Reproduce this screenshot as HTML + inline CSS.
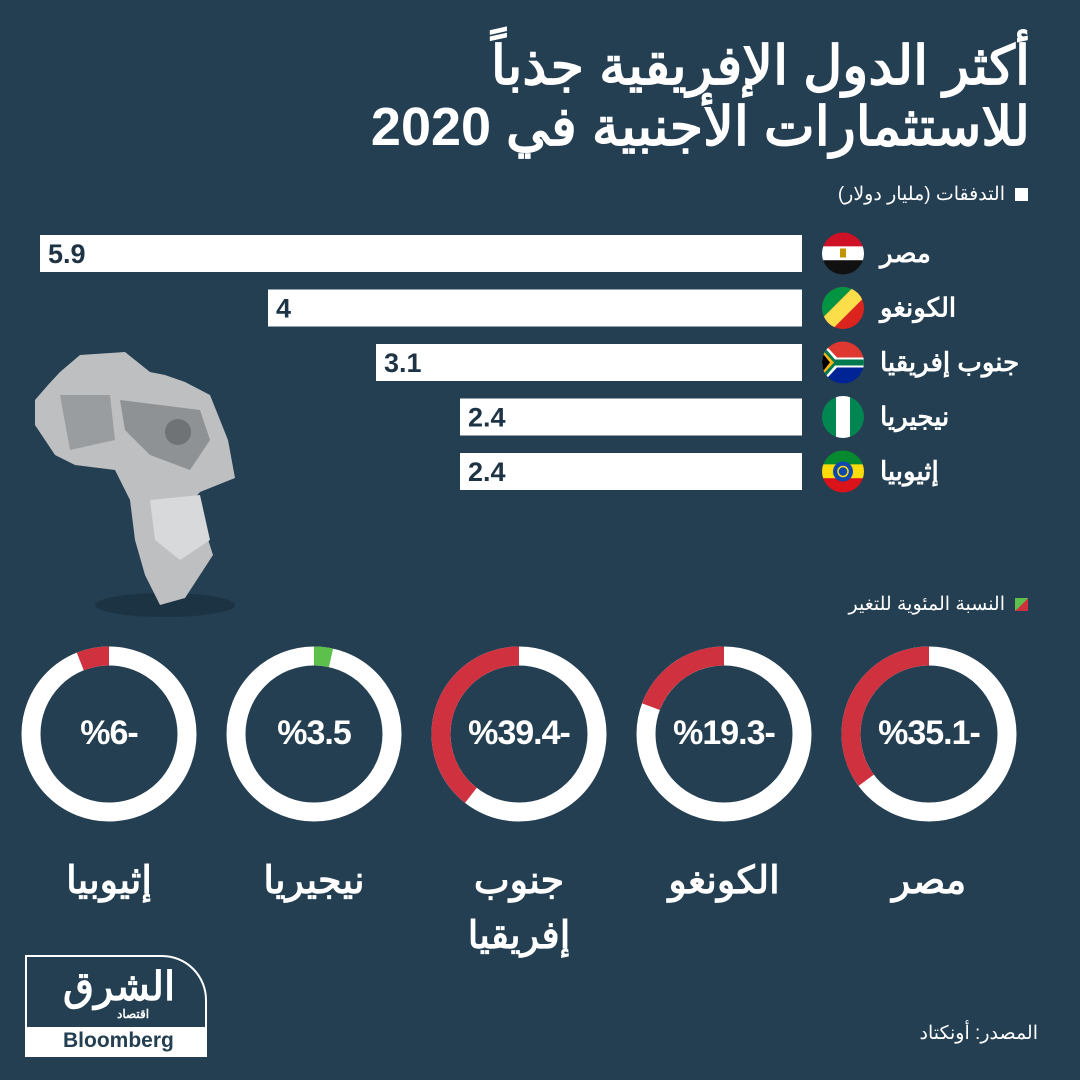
<!DOCTYPE html>
<html><head><meta charset="utf-8">
<style>
html,body{margin:0;padding:0}
body{width:1080px;height:1080px;background:#243f52;position:relative;overflow:hidden;font-family:"Liberation Sans","Noto Sans CJK SC",sans-serif;color:#fff}
.abs{position:absolute}
.title{right:50px;top:36px;text-align:right;font-weight:bold;font-size:54px;line-height:61px;direction:rtl}
</style></head>
<body>
<div class="abs title">أكثر الدول الإفريقية جذباً<br>للاستثمارات الأجنبية في 2020</div>

<div class="abs" style="right:52px;top:183px;font-size:19px;direction:rtl;display:flex;align-items:center">
<span style="width:13px;height:13px;background:#fff;display:inline-block;margin-left:10px"></span>التدفقات (مليار دولار)</div>

<div class="abs" style="right:52px;top:593px;font-size:19px;direction:rtl;display:flex;align-items:center">
<span style="width:13px;height:13px;background:linear-gradient(135deg,#5cc04a 50%,#d0313f 50%);display:inline-block;margin-left:10px"></span>النسبة المئوية للتغير</div>

<svg class="abs" style="left:0;top:0" width="1080" height="1080" id="chart">
 <g id="africa">
  <ellipse cx="165" cy="605" rx="70" ry="12" fill="#1a2f3e" opacity="0.7"/>
  <polygon fill="#bdbfc0" points="80,355 125,352 150,372 165,375 185,382 210,395 228,440 235,478 200,492 180,515 205,530 213,555 200,575 185,598 160,605 145,575 135,540 130,500 115,470 75,465 55,455 35,425 35,400 48,385 60,372"/>
  <polygon fill="#8e9294" points="120,400 200,410 210,440 190,470 150,455 125,430"/>
  <polygon fill="#d8d9da" points="150,500 200,495 210,540 180,560 155,540"/>
  <polygon fill="#9a9d9f" points="60,395 110,395 115,440 70,450"/>
  <circle cx="178" cy="432" r="13" fill="#6f7376"/>
 </g>
 <g id="bars"></g>
 <g id="flags"></g>
 <g id="donuts"></g>
</svg>

<div class="abs" style="right:42px;top:1022px;font-size:19px;direction:rtl">المصدر: أونكتاد</div>

<div class="abs" style="left:25px;top:955px;width:182px;height:102px;border:2px solid #fff;border-top-right-radius:45px;box-sizing:border-box;overflow:hidden">
 <div class="abs" style="left:36px;top:10px;font-size:40px;font-weight:bold;line-height:40px">الشرق</div>
 <div class="abs" style="left:90px;top:50px;font-size:12px;font-weight:bold">اقتصاد</div>
 <div class="abs" style="left:0;bottom:0;width:100%;height:28px;background:#fff;color:#243f52;font-weight:bold;font-size:21px;line-height:28px;padding-left:36px;box-sizing:border-box">Bloomberg</div>
</div>

<script>
const countries = ["مصر","الكونغو","جنوب إفريقيا","نيجيريا","إثيوبيا"];
const flows = [5.9, 4, 3.1, 2.4, 2.4];
const flowLabels = ["5.9","4","3.1","2.4","2.4"];
const changes = [-35.1, -19.3, -39.4, 3.5, -6];
const changeLabels = ["%35.1-","%19.3-","%39.4-","%3.5","%6-"];
const donutNames = [["مصر"],["الكونغو"],["جنوب","إفريقيا"],["نيجيريا"],["إثيوبيا"]];

const NS="http://www.w3.org/2000/svg";
function mk(tag,attrs,parent){const e=document.createElementNS(NS,tag);for(const k in attrs)e.setAttribute(k,attrs[k]);parent.appendChild(e);return e;}
const barRight=802, barTop0=235, barPitch=54.5, barH=37;
function xw(v){return 54+120*v;}
const bars=document.getElementById('bars');
flows.forEach((v,i)=>{
  const w=xw(v), y=barTop0+i*barPitch;
  const r=mk('rect',{x:barRight-w,y:y,width:w,height:barH,fill:'#fff'},bars);
  
  
  const t=mk('text',{x:barRight-w+8,y:y+28,'font-size':'27','font-weight':'bold',fill:'#1e3444','font-family':'Liberation Sans'},bars);
  t.textContent=flowLabels[i];
  
  
  const l=mk('text',{x:880,y:y+27,'font-size':'26','font-weight':'bold',fill:'#fff','text-anchor':'end',direction:'rtl','font-family':'Liberation Sans, Noto Sans CJK SC, sans-serif'},bars);
  l.textContent=countries[i];
  
  
});
const fl=document.getElementById('flags');
const flagDefs=[
 [['#ce1126',0,0.33],['#fff',0.33,0.66],['#111',0.66,1]],
 null,null,null,
 [['#078930',0,0.33],['#fcdd09',0.33,0.66],['#da121a',0.66,1]]
];
const defs=mk('defs',{},fl);
flows.forEach((v,i)=>{
  const cx=843, cy=barTop0+i*barPitch+barH/2, r=21;
  const cp=mk('clipPath',{id:'fc'+i},defs);
  mk('circle',{cx:cx,cy:cy,r:r},cp);
  const g=mk('g',{'clip-path':'url(#fc'+i+')'},fl);
  
  
  const x0=cx-r,y0=cy-r,s=2*r;
  if(i===0||i===4){
    flagDefs[i].forEach(b=>mk('rect',{x:x0,y:y0+b[1]*s,width:s,height:(b[2]-b[1])*s+0.5,fill:b[0]},g));
    if(i===0) mk('rect',{x:cx-3,y:cy-5,width:6,height:9,fill:'#c09300'},g);
    else {mk('circle',{cx:cx,cy:cy,r:10,fill:'#0f47af'},g);mk('circle',{cx:cx,cy:cy,r:5,fill:'none',stroke:'#fcdd09','stroke-width':1.5},g);}
  } else if(i===1){
    mk('rect',{x:x0,y:y0,width:s,height:s,fill:'#dc241f'},g);
    mk('polygon',{points:`${x0},${y0} ${x0+s*0.75},${y0} ${x0},${y0+s*0.75}`,fill:'#009543'},g);
    mk('polygon',{points:`${x0+s*0.75},${y0} ${x0+s},${y0} ${x0+s},${y0+s*0.25} ${x0+s*0.25},${y0+s} ${x0},${y0+s} ${x0},${y0+s*0.75}`,fill:'#fbde4a'},g);
  } else if(i===2){
    mk('rect',{x:x0,y:y0,width:s,height:s/2,fill:'#de3831'},g);
    mk('rect',{x:x0,y:cy,width:s,height:s/2,fill:'#002395'},g);
    mk('polygon',{points:`${x0},${y0} ${cx-6},${cy-5} ${x0+s},${cy-5} ${x0+s},${cy+5} ${cx-6},${cy+5} ${x0},${y0+s}`,fill:'#fff'},g);
    mk('polygon',{points:`${x0},${y0+3} ${cx-8},${cy-3} ${x0+s},${cy-3} ${x0+s},${cy+3} ${cx-8},${cy+3} ${x0},${y0+s-3}`,fill:'#007a4d'},g);
    mk('polygon',{points:`${x0},${y0+8} ${cx-9},${cy} ${x0},${y0+s-8}`,fill:'#ffb612'},g);
    mk('polygon',{points:`${x0},${y0+11} ${cx-13},${cy} ${x0},${y0+s-11}`,fill:'#000'},g);
  } else {
    mk('rect',{x:x0,y:y0,width:s,height:s,fill:'#008751'},g);
    mk('rect',{x:x0+s/3,y:y0,width:s/3,height:s,fill:'#fff'},g);
  }
});
const dn=document.getElementById('donuts');
const dx0=929, dstep=205, dcy=734, R=78, SW=19;
const C=2*Math.PI*R;
changes.forEach((v,i)=>{
  const cx=dx0-i*dstep;
  const g=mk('g',{transform:`translate(${cx},${dcy})`},dn);
  
  
  mk('circle',{cx:0,cy:0,r:R,fill:'none',stroke:'#fff','stroke-width':SW},g);
  const len=Math.abs(v)/100*C;
  const arc=mk('circle',{cx:0,cy:0,r:R,fill:'none',stroke:v<0?'#d0313f':'#5cc04a','stroke-width':SW,
    'stroke-dasharray':`${len} ${C}`,transform:v<0?'rotate(-90) scale(1,-1)':'rotate(-90)'},g);
  
  
  const t=mk('text',{x:cx,y:dcy+10,'font-size':'34','font-weight':'bold',fill:'#fff','text-anchor':'middle',direction:'ltr','letter-spacing':'-1','font-family':'Liberation Sans, sans-serif'},dn);
  t.textContent='\u200E'+changeLabels[i].split('').join('\u200E')+'\u200E';
  
  
  donutNames[i].forEach((nm,j)=>{
    const l=mk('text',{x:cx,y:893+j*55,'font-size':'38','font-weight':'bold',fill:'#fff','text-anchor':'middle',direction:'rtl','font-family':'Liberation Sans, Noto Sans CJK SC, sans-serif'},dn);
    l.textContent=nm;
    
    
  });
});
</script>
</body></html>
